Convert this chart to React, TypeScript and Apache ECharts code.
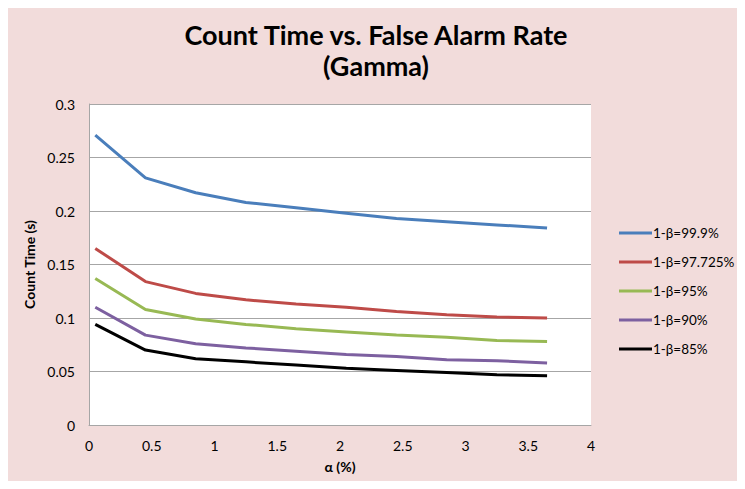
import React, { useEffect, useRef } from "react";
import * as echarts from "echarts";

const alphaValues = [0.05, 0.45, 0.85, 1.25, 1.65, 2.05, 2.45, 2.85, 3.25, 3.65];
const seriesNames = ["1-β=99.9%", "1-β=97.725%", "1-β=95%", "1-β=90%", "1-β=85%"];
const beta999 = [0.271, 0.231, 0.217, 0.208, 0.203, 0.198, 0.193, 0.19, 0.187, 0.184];
const beta97725 = [0.165, 0.134, 0.123, 0.117, 0.113, 0.11, 0.106, 0.103, 0.101, 0.1];
const beta95 = [0.137, 0.108, 0.099, 0.094, 0.09, 0.087, 0.084, 0.082, 0.079, 0.078];
const beta90 = [0.11, 0.084, 0.076, 0.072, 0.069, 0.066, 0.064, 0.061, 0.06, 0.058];
const beta85 = [0.094, 0.07, 0.062, 0.059, 0.056, 0.053, 0.051, 0.049, 0.047, 0.046];
const seriesColors = ["#4a7ebb", "#be4b48", "#98b954", "#7d60a0", "#000000"];

export default function App() {
  const ref = useRef<HTMLDivElement>(null);
  useEffect(() => {
    if (!ref.current) return;
    const chart = echarts.init(ref.current, undefined, { renderer: "svg" });
    const all = [beta999, beta97725, beta95, beta90, beta85];
    const font = "Lato, 'Open Sans', sans-serif";
    chart.setOption({
      animation: false,
      backgroundColor: "#f2dcdb",
      title: {
        text: "Count Time vs. False Alarm Rate\n(Gamma)",
        left: "center",
        top: 7,
        textStyle: {
          fontFamily: font,
          fontWeight: "bold",
          fontSize: 27,
          lineHeight: 31,
          color: "#000",
        },
      },
      legend: {
        orient: "vertical",
        left: 612,
        top: 219,
        padding: 0,
        itemWidth: 33,
        itemHeight: 3,
        itemGap: 15,
        icon: "rect",
        textStyle: { fontFamily: font, fontSize: 13.5, color: "#000", padding: [0, 0, 0, -4] },
        data: seriesNames,
      },
      grid: { left: 82, top: 97, right: 154, bottom: 64, backgroundColor: "#ffffff", show: true, borderWidth: 0 },
      xAxis: {
        type: "value",
        min: 0,
        max: 4,
        interval: 0.5,
        name: "α (%)",
        nameLocation: "middle",
        nameGap: 34,
        nameTextStyle: { fontFamily: font, fontWeight: "bold", fontSize: 14, color: "#000" },
        axisLine: { show: true, lineStyle: { color: "#a6a6a6", width: 1 } },
        axisTick: { show: false },
        splitLine: { show: false },
        axisLabel: { fontFamily: font, fontSize: 14, color: "#000", margin: 13 },
      },
      yAxis: {
        type: "value",
        min: 0,
        max: 0.3,
        interval: 0.05,
        name: "Count Time (s)",
        nameLocation: "middle",
        nameGap: 48,
        nameTextStyle: { fontFamily: font, fontWeight: "bold", fontSize: 14, color: "#000" },
        axisLine: { show: true, lineStyle: { color: "#a6a6a6", width: 1 } },
        axisTick: { show: false },
        splitLine: { show: true, lineStyle: { color: "#a6a6a6", width: 1 } },
        axisLabel: { fontFamily: font, fontSize: 14, color: "#000", margin: 14 },
      },
      series: seriesNames.map((name, i) => ({
        name,
        type: "line",
        symbol: "none",
        data: alphaValues.map((a, j) => [a, all[i][j]]),
        lineStyle: { color: seriesColors[i], width: 3 },
        itemStyle: { color: seriesColors[i] },
      })),
    });
    return () => chart.dispose();
  }, []);
  return (
    <div style={{ margin: -8, width: 745, height: 489, background: "#d9d9cd", position: "relative", overflow: "hidden" }}>
      <div ref={ref} style={{ position: "absolute", left: 7, top: 7, width: 738, height: 482 }} />
    </div>
  );
}
